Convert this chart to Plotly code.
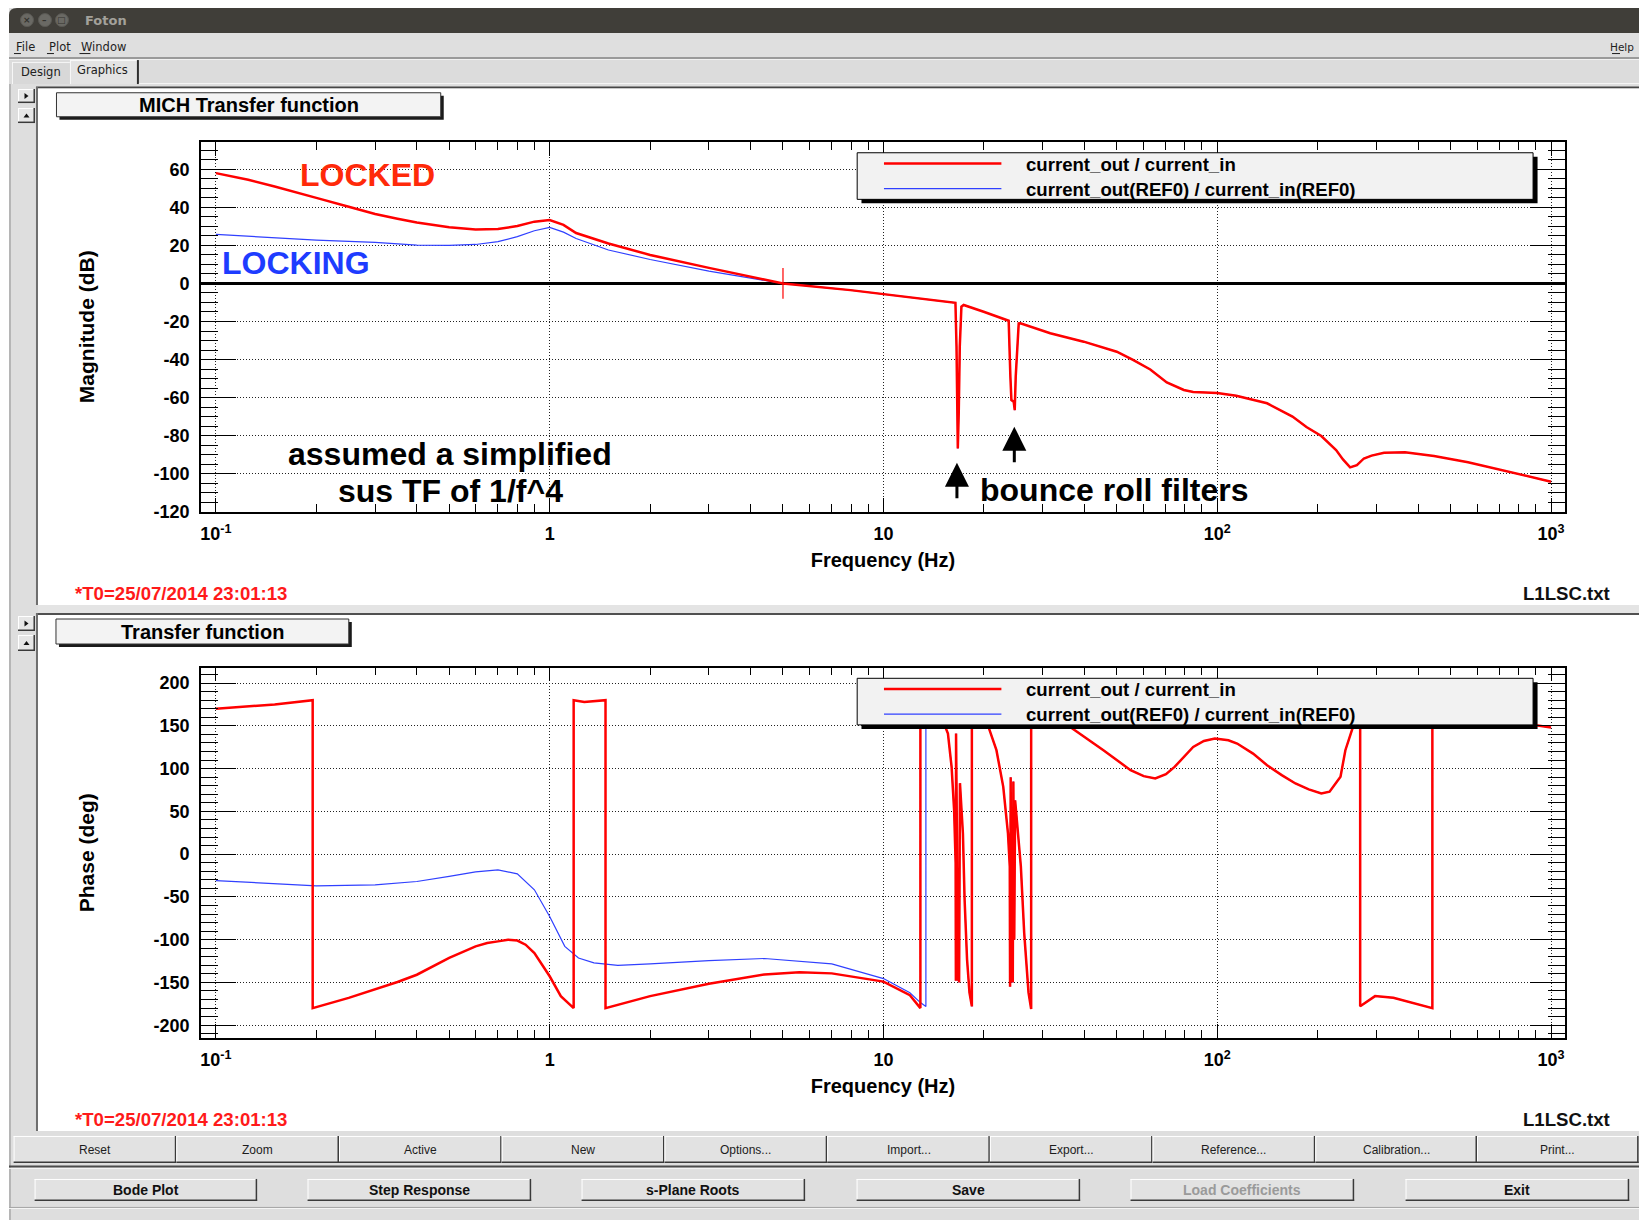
import math
import plotly.graph_objects as go

W, H = 1647, 1220          # browser window / reference size
OFF = 8                    # default <body> margin of the written page
VS = 1230 / 1220           # measured vertical page->picture compression compensation
FW, FH = W - 2 * OFF, 1216

# ---------------- data ----------------
NAME_LOCKED = "current_out / current_in"
NAME_REF = "current_out(REF0) / current_in(REF0)"

# Magnitude (dB) of the locked loop (red)
mag_freq_locked = [0.1, 0.125, 0.15, 0.175, 0.2, 0.25, 0.3, 0.35, 0.4, 0.5,
                   0.6, 0.7, 0.8, 0.9, 1.0, 1.1, 1.2, 1.5, 2, 3,
                   5, 7.96, 10, 12.6, 15.87, 16.43, 16.55, 16.7, 16.81, 16.93,
                   17.12, 17.39, 19.96, 23.72, 24.0, 24.17, 24.56, 24.73, 24.9, 25.13,
                   25.42, 25.72, 31.6, 39.8, 50, 56.1, 63, 70.6, 79.4, 84.7,
                   100, 114, 141, 168, 185, 205, 227, 238, 250, 262,
                   275, 290, 316, 365, 446, 564, 708, 1000]
mag_db_locked = [58, 54.5, 51, 48, 45, 40.3, 36.5, 34, 32, 29.5,
                 28.4, 28.6, 30.2, 32.5, 33.3, 30.8, 26.5, 21, 15, 8.2,
                 0, -3.5, -5.6, -7.8, -9.6, -10.2, -33, -86.7, -67.4, -33,
                 -12.2, -11.3, -14.9, -19.6, -49, -61.3, -62.2, -66.6, -49, -38.5,
                 -21, -20.9, -26.2, -30.6, -35.9, -40.3, -45.2, -52, -56, -57,
                 -57.6, -59, -63, -70, -75.5, -80.2, -87.6, -92.5, -96.7, -95.5,
                 -92, -90.5, -89, -88.8, -90.7, -94, -98, -104.2]

# Magnitude of the REF0 (locking) trace below 5 Hz; above 5 Hz it coincides with the red one
mag_freq_ref_low = [0.1, 0.15, 0.2, 0.3, 0.4, 0.5, 0.6, 0.7, 0.8, 0.9, 1.0, 1.1, 1.2, 1.5, 2, 3]
mag_db_ref_low = [25.8, 24, 22.8, 21.6, 20.2, 20, 20.5, 22, 24.6, 27.7, 29.5, 27, 23.6, 17.6, 12.6, 6.5]

# Unity gain frequency marker
ugf_freq = [5.0]
ugf_db = [0.0]

# Phase (deg) of the locked loop (red)
ph_freq_locked = [0.1, 0.15, 0.195, 0.195, 0.25, 0.3, 0.35, 0.4, 0.45, 0.5,
                  0.6, 0.65, 0.7, 0.75, 0.8, 0.847, 0.9, 0.951, 1.0, 1.08,
                  1.18, 1.18, 1.27, 1.47, 1.47, 2.0, 3.0, 4.4, 5.6, 7.0,
                  10, 12, 12.9, 12.9, 14, 15.1, 15.6, 16.0, 16.28, 16.45,
                  16.48, 16.5, 16.6, 16.68, 16.75, 16.85, 16.95, 17.3, 17.5, 17.8,
                  18.1, 18.4, 18.4, 19.5, 20.5, 21.8, 22.85, 23.6, 23.9, 23.95,
                  24.05, 24.15, 24.3, 24.4, 24.5, 24.65, 24.8, 25.8, 26.4, 27.2,
                  27.7, 27.7, 30, 33, 36.8, 45.6, 55, 60.2, 65.2, 70.2,
                  74.5, 84.7, 91.2, 98.4, 108, 114.7, 128, 141, 156, 171.5,
                  188, 205, 217, 234, 242, 255, 262, 268, 268, 297,
                  337, 441, 441, 600, 800, 902, 1000]
ph_deg_locked = [170, 175, 180, -180, -168, -158, -149.5, -141, -131, -121.4,
                 -107.8, -104, -102, -100, -101, -105.9, -115.6, -129.2, -142.8, -166,
                 -180, 180, 178, 180, -180, -166, -151.5, -140.6, -138.2, -139.4,
                 -149, -165, -180, 180, 170, 155, 141, 102, 51.5, -10,
                 -148, 141, 20, -148, -30, -150, 83, 24, -53, -123,
                 -162, -178, 180, 172, 152, 121.6, 78.7, 24.7, -14.6, -155,
                 90, -150, 40, -150, 85, -100, 63, -14.6, -92, -162,
                 -181, 180, 172, 160, 147, 121.5, 98.2, 91.2, 88.5, 93.5,
                 102, 125.4, 132.4, 135.1, 133.2, 129.3, 117.6, 104, 92.4, 82.6,
                 75.7, 71, 73, 90.4, 121.5, 148.7, 180, 180, -177.8, -166,
                 -168, -180, 180, 168, 156, 150.7, 148]

# Phase of the REF0 trace below 14 Hz; above 14 Hz it coincides with the red one
ph_freq_ref_low = [0.1, 0.15, 0.2, 0.3, 0.4, 0.5, 0.6, 0.7, 0.8, 0.9,
                   1.0, 1.11, 1.22, 1.357, 1.6, 2.0, 3, 4.4, 7, 10,
                   12, 12.9, 13.4, 13.4]
ph_deg_ref_low = [-31, -35, -37, -36, -32, -26, -20.8, -18.4, -23, -41.7,
                  -72.9, -107.8, -121.4, -127.2, -130, -128.4, -124.6, -122, -128.4, -145.5,
                  -162, -173.6, -178, 180]

x_tickvals = [0.1, 1, 10, 100, 1000]
x_ticktext = ["10<sup>-1</sup>", "1", "10", "10<sup>2</sup>", "10<sup>3</sup>"]
mag_tickvals = [-120, -100, -80, -60, -40, -20, 0, 20, 40, 60]
phase_tickvals = [-200, -150, -100, -50, 0, 50, 100, 150, 200]

# ---------------- build series ----------------
mag_freq_ref = mag_freq_ref_low + [f for f in mag_freq_locked if f >= 5]
mag_db_ref = mag_db_ref_low + [d for f, d in zip(mag_freq_locked, mag_db_locked) if f >= 5]
ph_freq_ref = ph_freq_ref_low + [f for f in ph_freq_locked if f >= 14]
ph_deg_ref = ph_deg_ref_low + [d for f, d in zip(ph_freq_locked, ph_deg_locked) if f >= 14]

RED = "#ff0000"
BLUE = "#3040ff"
FONT = "Liberation Sans, Arial, Helvetica, sans-serif"
GUI_FONT = "DejaVu Sans, Liberation Sans, sans-serif"

fig = go.Figure()
fig.add_trace(go.Scatter(x=mag_freq_ref, y=mag_db_ref, mode="lines", name=NAME_REF,
                         line=dict(color=BLUE, width=1.2), xaxis="x", yaxis="y"))
fig.add_trace(go.Scatter(x=mag_freq_locked, y=mag_db_locked, mode="lines", name=NAME_LOCKED,
                         line=dict(color=RED, width=2.5), xaxis="x", yaxis="y"))
fig.add_trace(go.Scatter(x=ugf_freq, y=ugf_db, mode="markers", name="UGF",
                         marker=dict(symbol="line-ns", size=22, color=RED,
                                     line=dict(color=RED, width=1.2)),
                         xaxis="x", yaxis="y"))
fig.add_trace(go.Scatter(x=ph_freq_ref, y=ph_deg_ref, mode="lines", name=NAME_REF,
                         line=dict(color=BLUE, width=1.2), xaxis="x2", yaxis="y2"))
fig.add_trace(go.Scatter(x=ph_freq_locked, y=ph_deg_locked, mode="lines", name=NAME_LOCKED,
                         line=dict(color=RED, width=2.5), xaxis="x2", yaxis="y2"))


# ---------------- geometry (pixels of the reference) ----------------
def X(px):
    return (px - OFF) / FW


def Y(py):
    return 1 - (py * VS - OFF) / FH


XL, XR = 200, 1565
MAG_T, MAG_B = 141.7, 511.7
PH_T, PH_B = 667.7, 1037.8
XRANGE = [-1.0449, 3.0419]


def xaxis_cfg(anchor):
    return dict(domain=[X(XL), X(XR)], anchor=anchor, type="log", range=XRANGE,
                tickmode="array", tickvals=x_tickvals, ticktext=x_ticktext,
                ticks="inside", ticklen=14, tickwidth=1, tickcolor="black",
                minor=dict(ticks="inside", ticklen=8, tickwidth=1, tickcolor="black",
                           dtick="D1", showgrid=False),
                showgrid=True, gridcolor="#222222", griddash="1px,2px", gridwidth=1,
                showline=True, linecolor="black", linewidth=1.5, mirror="allticks",
                zeroline=False, ticklabelstandoff=5,
                tickfont=dict(family=FONT, size=18, color="black", weight="bold"),
                title=dict(text="Frequency (Hz)", standoff=9.5,
                           font=dict(family=FONT, size=20, color="black", weight="bold")))


def yaxis_cfg(anchor, top, bottom, rng, tickvals, minor_dtick, title, zeroline):
    return dict(domain=[Y(bottom), Y(top)], anchor=anchor, range=rng,
                tickmode="array", tickvals=tickvals, ticktext=[str(v) for v in tickvals],
                ticks="inside", ticklen=35, tickwidth=1, tickcolor="black",
                minor=dict(ticks="inside", ticklen=17, tickwidth=1, tickcolor="black",
                           tick0=0, dtick=minor_dtick, showgrid=False),
                showgrid=True, gridcolor="#222222", griddash="1px,2px", gridwidth=1,
                showline=True, linecolor="black", linewidth=1.5, mirror="allticks",
                zeroline=zeroline, zerolinecolor="black", zerolinewidth=2.5,
                ticklabelstandoff=6,
                tickfont=dict(family=FONT, size=18, color="black", weight="bold"),
                title=dict(text=title, standoff=53,
                           font=dict(family=FONT, size=21, color="black", weight="bold")))


shapes = []
annotations = []


def rect(x0, y0, x1, y1, fill=None, line=None, lw=1, layer="below"):
    shapes.append(dict(type="rect", xref="paper", yref="paper",
                       x0=X(x0), x1=X(x1), y0=Y(y1), y1=Y(y0),
                       fillcolor=fill if fill else "rgba(0,0,0,0)",
                       line=dict(color=line if line else "rgba(0,0,0,0)", width=lw if line else 0),
                       layer=layer))


def hline(x0, x1, y, color, lw=1, layer="below"):
    shapes.append(dict(type="line", xref="paper", yref="paper",
                       x0=X(x0), x1=X(x1), y0=Y(y), y1=Y(y),
                       line=dict(color=color, width=lw), layer=layer))


def vline(x, y0, y1, color, lw=1, layer="below"):
    shapes.append(dict(type="line", xref="paper", yref="paper",
                       x0=X(x), x1=X(x), y0=Y(y0), y1=Y(y1),
                       line=dict(color=color, width=lw), layer=layer))


def path(points, fill, layer="below"):
    d = "M " + " L ".join(f"{X(px):.6f},{Y(py):.6f}" for px, py in points) + " Z"
    shapes.append(dict(type="path", xref="paper", yref="paper", path=d,
                       fillcolor=fill, line=dict(width=0), layer=layer))


def txt(x, y, s, size, color="black", anchor="center", family=FONT, weight="normal"):
    annotations.append(dict(x=X(x), y=Y(y), xref="paper", yref="paper", text=s,
                            showarrow=False, xanchor=anchor, yanchor="middle",
                            font=dict(size=size, color=color, family=family, weight=weight)))


def button(x0, y0, x1, y1, face="#e2e2e2"):
    rect(x0, y0, x1, y1, fill=face)
    hline(x0, x1, y0 + 0.5, "#ffffff", 1)
    vline(x0 + 0.5, y0, y1, "#ffffff", 1)
    hline(x0, x1, y1 - 0.75, "#3a3a3a", 1.5)
    vline(x1 - 0.75, y0, y1, "#3a3a3a", 1.5)


# ---------------- window chrome ----------------
rect(OFF, OFF, W, H, fill="#dedede")
tb = "M {:.6f},{:.6f} L {:.6f},{:.6f} Q {:.6f},{:.6f} {:.6f},{:.6f} L {:.6f},{:.6f} L {:.6f},{:.6f} Z".format(
    X(OFF), Y(33), X(OFF), Y(15), X(OFF), Y(OFF), X(16), Y(OFF), X(W), Y(OFF), X(W), Y(33))
shapes.append(dict(type="path", xref="paper", yref="paper", path=tb,
                   fillcolor="#403e39", line=dict(width=0), layer="below"))
for cx, sym in [(26, "×"), (44, "–"), (61, "□")]:
    shapes.append(dict(type="circle", xref="paper", yref="paper",
                       x0=X(cx - 6.5), x1=X(cx + 6.5), y0=Y(26.5), y1=Y(13.5),
                       fillcolor="#6a6964", line=dict(color="#5a5954", width=1), layer="below"))
    txt(cx, 20, sym, 9, color="#33322e", family=GUI_FONT, weight="bold")
txt(82, 20, "Foton", 13, color="#a3a19b", anchor="left", family=GUI_FONT, weight="bold")

# menu bar
rect(OFF, 33, W, 57, fill="#dfdfdf")
hline(OFF, W, 58, "#9a9a9a", 2)
hline(OFF, W, 59.5, "#f2f2f2", 1)
txt(13, 46.5, "File", 11.5, color="#1e1e1e", anchor="left", family=GUI_FONT)
txt(46, 46.5, "Plot", 11.5, color="#1e1e1e", anchor="left", family=GUI_FONT)
txt(78.5, 46.5, "Window", 11.5, color="#1e1e1e", anchor="left", family=GUI_FONT)
txt(1636, 46.5, "Help", 10.5, color="#1e1e1e", anchor="right", family=GUI_FONT)
for ux0, ux1 in [(13, 20), (46, 53), (78.5, 89.5), (1612, 1620)]:
    hline(ux0, ux1, 53.5, "#1e1e1e", 1)

# tab row
rect(OFF, 60, W, 84, fill="#dcdcdc")
rect(11, 62, 69, 84, fill="#d8d8d8")
vline(11.5, 62, 84, "#f6f6f6")
hline(11, 69, 62.5, "#f6f6f6")
rect(69, 60, 138, 84, fill="#e3e3e3")
vline(69.5, 60, 84, "#f8f8f8")
hline(69, 138, 60.5, "#f8f8f8")
vline(137, 60, 84, "#2e2e2e", 2)
hline(138, W, 83.5, "#f6f6f6")
txt(40, 72, "Design", 11.5, color="#202020", family=GUI_FONT)
txt(101.4, 70, "Graphics", 11.5, color="#202020", family=GUI_FONT)

# content frame & canvases
vline(9, 84, 1220, "#a8a8a8", 1.5)
hline(35, W, 87.5, "#474747", 2)
rect(37, 88.5, 1645, 605, fill="white")
vline(36, 87, 605, "#6e6e6e", 2)
rect(37, 605, W, 613, fill="#e4e4e4")
hline(35, W, 614, "#505050", 2)
rect(37, 615, 1645, 1131, fill="white")
vline(36, 613, 1131, "#6e6e6e", 2)
vline(1645.5, 88, 1131, "#c8c8c8", 1)

# small panel buttons
for (y0, y1, kind) in [(89, 103, "r"), (108, 123, "u"), (616, 631, "r"), (635, 651, "u")]:
    button(17, y0, 34, y1, face="#e6e6e6")
    cy = (y0 + y1) / 2
    if kind == "r":
        path([(23.5, cy - 3), (23.5, cy + 3), (27.5, cy)], "#111111")
    else:
        path([(22.5, cy + 2), (28.5, cy + 2), (25.5, cy - 2)], "#111111")

# panel title boxes
rect(58.5, 95.7, 443, 119.7, fill="#1a1a1a")
rect(55.5, 92.7, 440, 116.7, fill="#f3f3f3", line="#333333", lw=1)
txt(247.7, 104.7, "MICH Transfer function", 20, weight="bold")
rect(58, 622, 351, 647, fill="#1a1a1a")
rect(55, 619, 348, 644, fill="#f3f3f3", line="#333333", lw=1)
txt(201.5, 631.5, "Transfer function", 20, weight="bold")

# time stamps and file names
for yy in (593.5, 1120):
    txt(72, yy, "*T0=25/07/2014 23:01:13", 18.6, color="#ff1a1a", anchor="left", weight="bold")
    txt(1612, yy, "L1LSC.txt", 18.6, color="#111111", anchor="right", weight="bold")

# button row 1
edges = [12.6, 175.4, 338.2, 501, 663.9, 826.7, 989.5, 1152.3, 1315.1, 1476.9, 1638.6]
labels1 = ["Reset", "Zoom", "Active", "New", "Options...", "Import...", "Export...",
           "Reference...", "Calibration...", "Print..."]
for i, lab in enumerate(labels1):
    button(edges[i], 1136, edges[i + 1], 1163, face="#e2e2e2")
    txt((edges[i] + edges[i + 1]) / 2, 1150, lab, 12, color="#1c1c1c", family=FONT)
hline(OFF, W, 1166.5, "#4a4a4a", 2)
hline(OFF, W, 1168.5, "#f4f4f4", 1)

# button row 2
row2 = [(33.6, 256.3, "Bode Plot"), (306.7, 530.5, "Step Response"), (580.9, 804.6, "s-Plane Roots"),
        (856.1, 1079.8, "Save"), (1130.2, 1354, "Load Coefficients"), (1405.4, 1629.2, "Exit")]
for x0, x1, lab in row2:
    button(x0, 1179, x1, 1201, face="#e2e2e2")
    col = "#9a9a9a" if lab == "Load Coefficients" else "#111111"
    txt((x0 + x1) / 2, 1190, lab, 14, color=col, family=FONT, weight="bold")
hline(OFF, W, 1207.5, "#a0a0a0", 1)
hline(OFF, W, 1208.5, "#f6f6f6", 1)


# ---------------- hand-drawn legends (ROOT style) ----------------
def legend_box(top):
    rect(861, top + 4, 1537.5, top + 50.6, fill="#000000", layer="above")
    rect(856.7, top, 1533, top + 46.6, fill="#f2f2f2", line="#000000", lw=1, layer="above")
    hline(883.5, 1001, top + 10.8, RED, 2.5, layer="above")
    hline(883.5, 1001, top + 35.8, BLUE, 1.3, layer="above")
    txt(1024, top + 11.3, NAME_LOCKED, 18.6, anchor="left", weight="bold")
    txt(1024, top + 36.3, NAME_REF, 18.6, anchor="left", weight="bold")


legend_box(152.7)
legend_box(678.3)


# ---------------- chart annotations (data coordinates; log axis -> log10) ----------------
def dtxt(f, y, s, size, color):
    annotations.append(dict(x=math.log10(f), y=y, xref="x", yref="y", text=s, showarrow=False,
                            xanchor="center", yanchor="middle",
                            font=dict(family=FONT, size=size, color=color, weight="bold")))


dtxt(0.2845, 57.0, "LOCKED", 32, "#ff2a0a")
dtxt(0.1742, 10.6, "LOCKING", 32, "#1e3cff")
dtxt(0.504, -89.6, "assumed a simplified", 32, "black")
dtxt(0.504, -108.9, "sus TF of 1/f^4", 32, "black")
dtxt(48.97, -108.6, "bounce roll filters", 32, "black")
for fx, fy in [(16.6, -94.3), (24.66, -75.3)]:
    annotations.append(dict(x=math.log10(fx), y=fy, xref="x", yref="y", text="", showarrow=True,
                            ax=0, ay=37, axref="pixel", ayref="pixel",
                            arrowhead=2, arrowsize=1.6, arrowwidth=3, arrowcolor="black",
                            standoff=0))

fig.update_layout(
    width=FW, height=FH, autosize=False,
    margin=dict(l=0, r=0, t=0, b=0),
    paper_bgcolor="white", plot_bgcolor="white",
    showlegend=False,
    font=dict(family=FONT, color="black"),
    xaxis=xaxis_cfg("y"),
    yaxis=yaxis_cfg("x", MAG_T, MAG_B, [-120, 74.5], mag_tickvals, 5, "Magnitude (dB)", True),
    xaxis2=xaxis_cfg("y2"),
    yaxis2=yaxis_cfg("x2", PH_T, PH_B, [-214.7, 218], phase_tickvals, 10, "Phase (deg)", False),
    shapes=shapes,
    annotations=annotations,
)

fig.write_html("out.html", config={"displayModeBar": False})
